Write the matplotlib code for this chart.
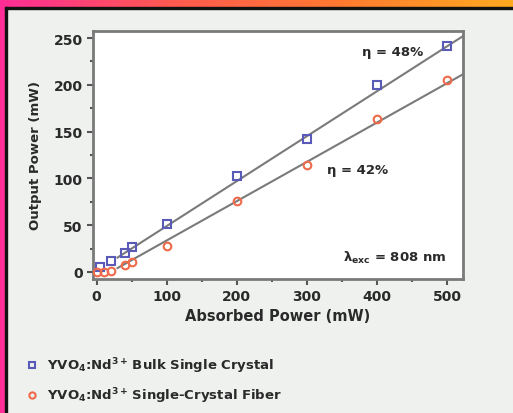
import numpy as np
import matplotlib
matplotlib.use("Agg")
import matplotlib.pyplot as plt
from matplotlib.patches import Rectangle
from matplotlib.lines import Line2D
from matplotlib.colors import LinearSegmentedColormap

plt.rcParams['font.family'] = ['DejaVu Sans']
plt.rcParams['mathtext.fontset'] = 'custom'
plt.rcParams['mathtext.rm'] = 'DejaVu Sans:bold'
plt.rcParams['mathtext.bf'] = 'DejaVu Sans:bold'
plt.rcParams['mathtext.it'] = 'DejaVu Sans:bold'
plt.rcParams['mathtext.default'] = 'rm'

# data
bulk_x = [5, 20, 40, 50, 100, 200, 300, 400, 500]
bulk_y = [5, 12, 20, 27, 51, 103, 142, 200, 241]
fiber_x = [0, 10, 20, 40, 50, 100, 200, 300, 400, 500]
fiber_y = [0, 0, 1, 7, 11, 28, 76, 114, 163, 205]
bulk_slope, bulk_icpt = 0.48, 1.0
fiber_slope, fiber_thr = 0.42, 20.0
fit_x = [30, 523]
xticks = [0, 100, 200, 300, 400, 500]
yticks = [0, 50, 100, 150, 200, 250]
legend_labels = ["YVO$_4$:Nd$^{3+}\\,$Bulk Single Crystal",
                 "YVO$_4$:Nd$^{3+}\\,$Single-Crystal Fiber"]

W, H = 513, 414
fig = plt.figure(figsize=(W/100, H/100), dpi=100)
fig.patch.set_facecolor('#eef1ee')

blue = '#5a5ab8'
orange = '#ee6a4a'
txt = '#2a2a2a'

ax = fig.add_axes([93/W, 1-280/H, (463-93)/W, (280-32)/H])
ax.set_facecolor('white')
ax.set_xlim(-5, 523)
ax.set_ylim(-7.5, 257.5)

fx = np.array(fit_x, dtype=float)
ax.plot(fx, bulk_slope*fx + bulk_icpt, color='#7a7a7a', lw=1.5, zorder=2)
ax.plot(fx, fiber_slope*(fx - fiber_thr), color='#7a7a7a', lw=1.5, zorder=2)
ax.plot(bulk_x, bulk_y, 's', mfc='none', mec=blue, mew=1.5, ms=5.5, zorder=3)
ax.plot(fiber_x, fiber_y, 'o', mfc='none', mec=orange, mew=1.5, ms=5.5, zorder=3)

ax.set_xticks(xticks)
ax.set_yticks(yticks)
ax.set_xticks([50, 150, 250, 350, 450], minor=True)
ax.set_yticks([25, 75, 125, 175, 225], minor=True)
ax.tick_params(axis='both', which='major', direction='out', length=4, width=1.5,
               color='#555555', labelsize=10, labelcolor=txt)
ax.tick_params(axis='both', which='minor', direction='out', length=2.5, width=1.5,
               color='#555555')
for lab in ax.get_xticklabels() + ax.get_yticklabels():
    lab.set_fontweight('bold')
for s in ax.spines.values():
    s.set_color('#7a7a7a')
    s.set_linewidth(2)

ax.set_xlabel('Absorbed Power (mW)', fontsize=10.5, fontweight='bold', color=txt, labelpad=3)
ax.set_ylabel('Output Power (mW)', fontsize=9.5, fontweight='bold', color=txt, labelpad=8)

ax.text(423, 236, 'η = 48%', fontsize=9.5, fontweight='bold', color=txt, ha='center', va='center')
ax.text(372, 110, 'η = 42%', fontsize=9.5, fontweight='bold', color=txt, ha='center', va='center')
ax.text(500, 16, 'λ$_{exc}$ = 808 nm', fontsize=9.5, fontweight='bold', color=txt,
        ha='right', va='center')

# legend below
fig.add_artist(Line2D([32/W], [1-366/H], marker='s', mfc='none', mec=blue, mew=1.5, ms=4.5,
                      transform=fig.transFigure, ls='none'))
fig.add_artist(Line2D([32/W], [1-396/H], marker='o', mfc='none', mec=orange, mew=1.5, ms=4.5,
                      transform=fig.transFigure, ls='none'))
fig.text(47/W, 1-366/H, legend_labels[0], fontsize=9.5, fontweight='bold', color=txt, va='center')
fig.text(47/W, 1-396/H, legend_labels[1], fontsize=9.5, fontweight='bold', color=txt, va='center')

# border decorations
fig.add_artist(Rectangle((0, 0), 5/W, 1, transform=fig.transFigure, color='#ff2d96', zorder=0))
gax = fig.add_axes([0, 1-8/H, 1, 8/H])
cmap = LinearSegmentedColormap.from_list('g', ['#ff2d96', '#ff5a50', '#ff7a30', '#ffaa20'])
gax.imshow(np.linspace(0, 1, 256)[None, :], aspect='auto', cmap=cmap, extent=[0, 1, 0, 1])
gax.axis('off')
fig.add_artist(Rectangle((5/W, 0), 2/W, 1-8/H, transform=fig.transFigure, color='#111111', zorder=1))
fig.add_artist(Rectangle((5/W, 1-10/H), 1-5/W, 2/H, transform=fig.transFigure, color='#111111', zorder=1))

fig.savefig('out.png', dpi=100, facecolor=fig.get_facecolor())
